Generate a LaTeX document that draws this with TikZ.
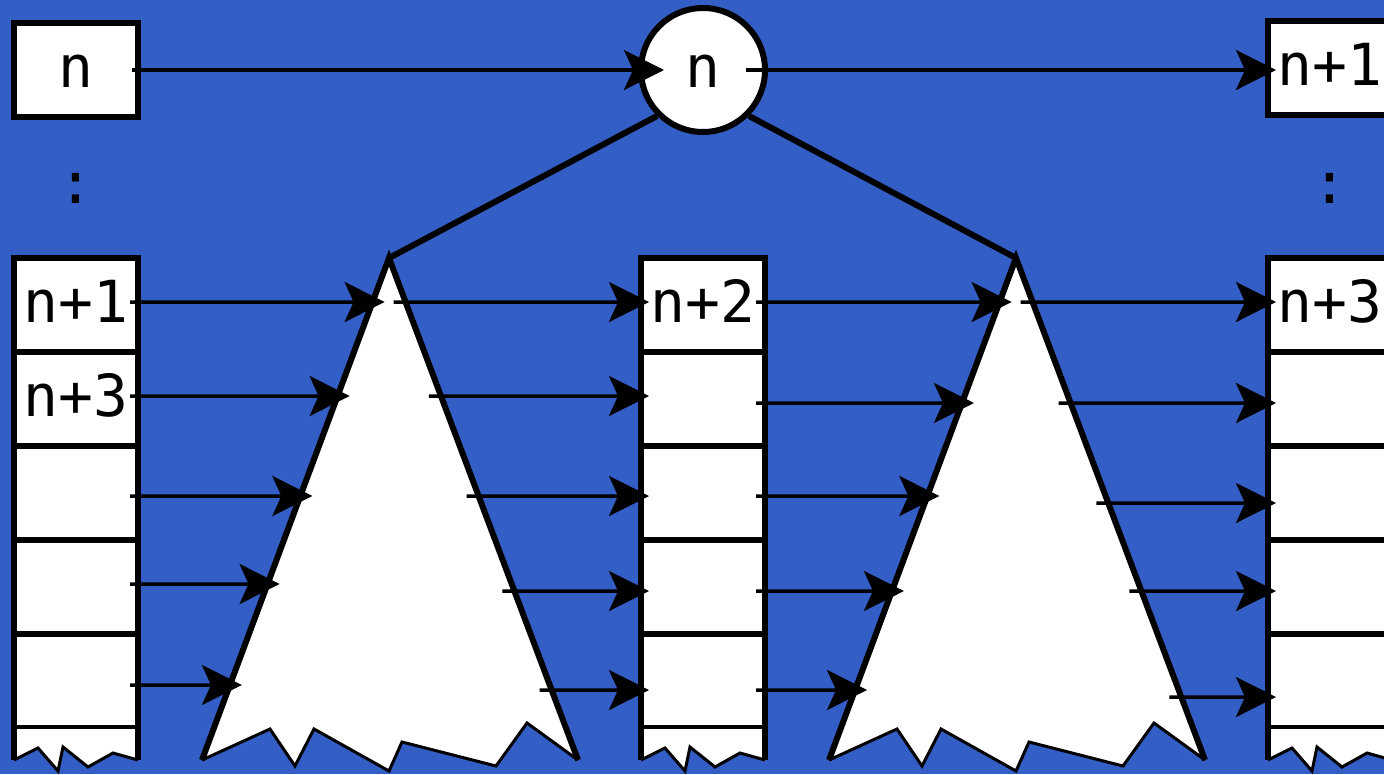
\documentclass[tikz,border=0pt]{standalone}
\usepackage{fontspec}
\newfontfamily\cellfont{DejaVu Sans Mono}
\usetikzlibrary{arrows.meta,calc}
\definecolor{bgblue}{RGB}{51,94,197}

\begin{document}
\begin{tikzpicture}
[
    x=1pt, y=-1pt,
    lbl/.style={font=\cellfont\fontsize{58}{60}\selectfont},
    cell/.style={lbl, draw, fill=white, line width=6pt, inner sep=0pt,
        minimum width=124pt, minimum height=94pt,
        text height=42pt, text depth=8pt},
    arr/.style={line width=3.5pt, -{Stealth[length=40pt,width=40pt,inset=9pt]}},
    jag/.style={line width=3pt, line join=miter}
]
    \useasboundingbox (0,0) rectangle (1384,774);
    \fill[bgblue] (0,0) rectangle (1384,774);
    \clip (0,0) rectangle (1384,774);

    % the two subtrees
    \foreach \tx [count=\i] in {389,1016} {
        \coordinate (t\i a) at (\tx,258);
        \coordinate (t\i l) at (\tx-187,760);
        \coordinate (t\i r) at (\tx+189,760);
        \begin{scope}[xshift=\tx]
            \fill[white] (0,258) -- (-187,760) -- (-119,729) -- (-94,766) -- (-75,729)
                -- (0,771) -- (13,742) -- (107,766) -- (138,723) -- (189,760) -- cycle;
            \draw[jag] (-187,760) -- (-119,729) -- (-94,766) -- (-75,729)
                -- (0,771) -- (13,742) -- (107,766) -- (138,723) -- (189,760);
        \end{scope}
        \draw[line width=6pt] (t\i l) -- (t\i a) -- (t\i r);
    }

    % the three columns
    \foreach \cx/\nm/\ta/\tb in {76/l/n+1/n+3, 703/m/n+2/{}, 1330/r/n+3/{}} {
        \node[cell] (\nm1) at (\cx,305) {\ta};
        \node[cell] (\nm2) at (\cx,399) {\tb};
        \foreach \k in {3,4,5}
            \node[cell] (\nm\k) at (\cx,211+94*\k) {};
        \begin{scope}[xshift={\cx-62}]
            \fill[white] (0,729) -- (0,760) -- (24,748) -- (44,771) -- (49,747)
                -- (74,767) -- (99,753) -- (124,760) -- (124,729) -- cycle;
            \draw[jag] (0,760) -- (24,748) -- (44,771) -- (49,747)
                -- (74,767) -- (99,753) -- (124,760);
            \draw[line width=6pt] (0,729) -- (0,760) (124,729) -- (124,760);
        \end{scope}
    }

    % top row
    \node[cell] (topl) at (76,70) {n};
    \node[cell] (topr) at (1330,68) {n+1};
    \node[cell, circle, minimum size=124pt] (circ) at (703,70) {n};
    \node[lbl, anchor=base] (dotl) at (76,203) {:};
    \node[lbl, anchor=base] (dotr) at (1330,203) {:};

    \draw[line width=6pt] (circ.south west) -- (t1a);
    \draw[line width=6pt] (circ.south east) -- (t2a);

    \draw[arr] ([xshift=-9pt]topl.east) -- ([xshift=26pt]circ.west);
    \draw[arr] ([xshift=-22pt]circ.east) -- ([xshift=11pt,yshift=-2pt]topr.west);

    % row pointers
    \foreach \k/\y in {1/302,2/396,3/496,4/584,5/685}
        \draw[arr] ([xshift=-11pt,yshift={211+94*\k-\y}]l\k.east)
            -- ($(t1a)!{(\y-258)/502}!(t1l)+(12,0)$);
    \foreach \k/\y in {1/302,2/396,3/496,4/591,5/690}
        \draw[arr] ($(t1a)!{(\y-258)/502}!(t1r)+(-12,0)$)
            -- ([xshift=11pt,yshift={211+94*\k-\y}]m\k.west);
    \foreach \k/\y in {1/302,2/403,3/496,4/591,5/690}
        \draw[arr] ([xshift=-12pt,yshift={211+94*\k-\y}]m\k.east)
            -- ($(t2a)!{(\y-258)/502}!(t2l)+(12,0)$);
    \foreach \k/\y in {1/302,2/403,3/503,4/591,5/697}
        \draw[arr] ($(t2a)!{(\y-258)/502}!(t2r)+(-12,0)$)
            -- ([xshift=11pt,yshift={211+94*\k-\y}]r\k.west);
\end{tikzpicture}
\end{document}
